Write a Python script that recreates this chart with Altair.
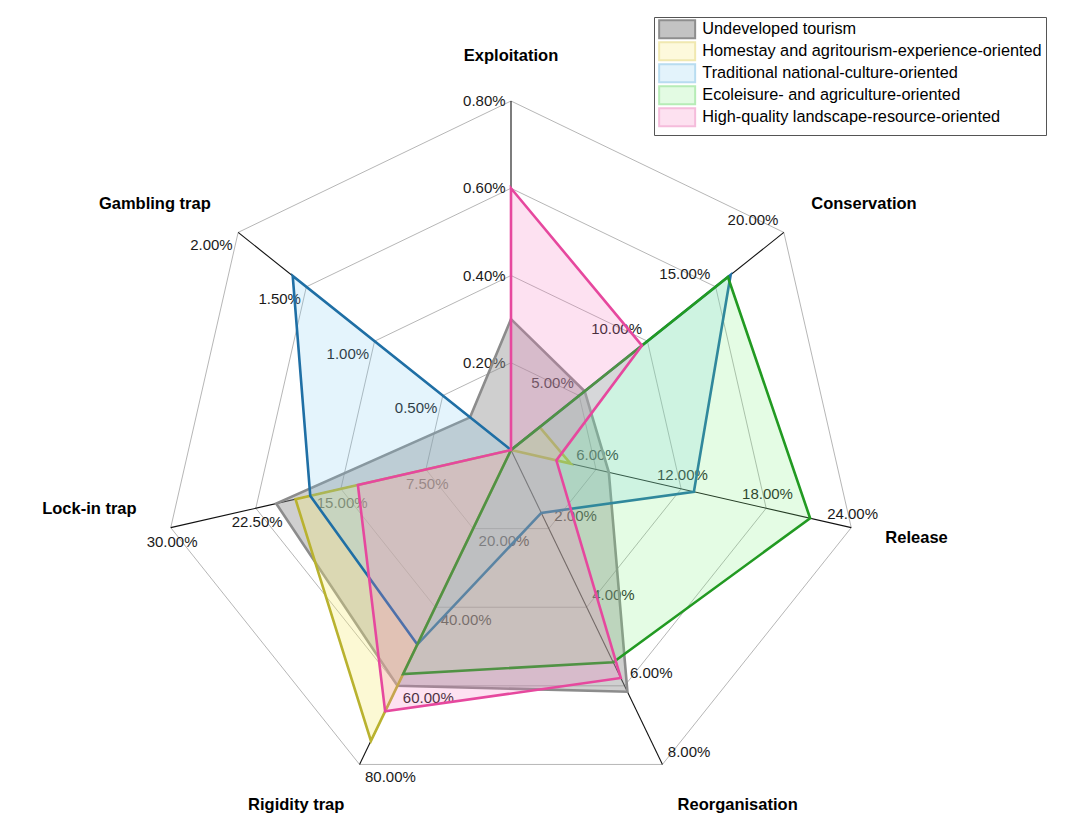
import altair as alt
import pandas as pd

# ---------------- data ----------------
axes = ["Exploitation", "Conservation", "Release", "Reorganisation",
        "Rigidity trap", "Lock-in trap", "Gambling trap"]
axis_max = [0.8, 20, 24, 8, 80, 30, 2]
axis_ticks = [
    [0.2, 0.4, 0.6, 0.8],
    [5, 10, 15, 20],
    [6, 12, 18, 24],
    [2, 4, 6, 8],
    [20, 40, 60, 80],
    [7.5, 15, 22.5, 30],
    [0.5, 1.0, 1.5, 2.0],
]

series = ["Undeveloped tourism",
          "Homestay and agritourism-experience-oriented",
          "Traditional national-culture-oriented",
          "Ecoleisure- and agriculture-oriented",
          "High-quality landscape-resource-oriented"]

undeveloped = [0.30, 5.4, 6.9, 6.15, 60.0, 20.7, 0.30]
homestay = [0.0, 2.1, 4.2, 0.0, 74.0, 19.0, 0.0]
traditional = [0.0, 16.1, 12.9, 1.6, 49.5, 17.7, 1.60]
ecoleisure = [0.0, 15.9, 21.1, 5.4, 57.0, 0.0, 0.0]
high_quality = [0.60, 9.6, 3.2, 5.8, 66.5, 13.5, 0.0]
series_values = [undeveloped, homestay, traditional, ecoleisure, high_quality]

# ---------------- style ----------------
line_colors = ["#8c8c8c", "#b9b22f", "#1f6fa5", "#229a22", "#e6489e"]
fill_colors = ["rgba(140,140,140,0.42)", "rgba(245,235,120,0.32)",
               "rgba(120,200,240,0.20)", "rgba(120,240,120,0.20)",
               "rgba(245,120,190,0.22)"]
legend_fills = ["#c3c3c3", "#fdf9dc", "#e3f3fb", "#e3fbe3", "#fde1f0"]
legend_borders = ["#8e8e8e", "#f0e8b0", "#b8dcf0", "#b6ecb6", "#f5bcdb"]
FONT = "Liberation Sans"
title_nudge_px = [0, 0, 0, 0, 0, -29, 0]   # vertical nudge of axis titles (screen px)

R_PX = 349.0
CX, CY = 503.0, 442.0
W, H = 1060, 806
xdom = [-CX / R_PX, (W - CX) / R_PX]
ydom = [-(H - CY) / R_PX, CY / R_PX]
xs = alt.Scale(domain=xdom, nice=False, zero=False)
ys = alt.Scale(domain=ydom, nice=False, zero=False)

# ---------------- tables ----------------
poly_rows = []
for s, vals in zip(series, series_values):
    for i, v in enumerate(vals):
        poly_rows.append({"series": s, "axis": axes[i], "idx": i, "value": v, "vmax": axis_max[i]})
poly_df = pd.DataFrame(poly_rows)

tick_rows = []
for i, ts in enumerate(axis_ticks):
    for t in ts:
        tick_rows.append({"idx": i, "tick": t, "vmax": axis_max[i], "label": f"{t:.2f}%"})
tick_df = pd.DataFrame(tick_rows)

ring_df = pd.DataFrame([{"level": l, "idx": i} for l in range(1, 5) for i in range(len(axes))])
axis_df = pd.DataFrame([{"idx": i, "axis": a, "nudge": title_nudge_px[i]} for i, a in enumerate(axes)])
legend_df = pd.DataFrame({"series": series, "x": [0.0] * len(series), "y": [0.0] * len(series)})

ANG = "datum.idx*2*PI/7"

rings = alt.Chart(ring_df).transform_calculate(
    a=ANG
).transform_calculate(
    x="datum.level/4*sin(datum.a)", y="datum.level/4*cos(datum.a)"
).mark_line(interpolate="linear-closed", color="#a3a3a3", strokeWidth=0.8).encode(
    x=alt.X("x:Q", scale=xs, axis=None),
    y=alt.Y("y:Q", scale=ys, axis=None),
    detail="level:N",
    order="idx:Q",
)

spokes = alt.Chart(axis_df).transform_calculate(
    a=ANG
).transform_calculate(
    x="sin(datum.a)", y="cos(datum.a)", x0="0", y0="0"
).mark_rule(color="#111111", strokeWidth=1.1).encode(
    x=alt.X("x0:Q", scale=xs, axis=None),
    y=alt.Y("y0:Q", scale=ys, axis=None),
    x2="x:Q", y2="y:Q",
)

tick_labels = alt.Chart(tick_df).transform_calculate(
    a=ANG, f="datum.tick/datum.vmax",
    w="8.3*(length(datum.label)-2)+17.5",
).transform_calculate(
    ux="-cos(datum.a)", uy="-sin(datum.a)",
).transform_calculate(
    dxs="abs(datum.ux) > 0.5 ? (datum.ux > 0 ? 1 : -1)*(datum.w/2 + 5.5) : datum.ux*6",
    dys="abs(datum.uy) < 0.3 ? 0 : (abs(datum.uy) > 0.9 ? datum.uy*14.5 : (datum.uy > 0 ? 1 : -1)*12.5)",
).transform_calculate(
    lx=f"datum.f*sin(datum.a) + datum.dxs/{R_PX}",
    ly=f"datum.f*cos(datum.a) - datum.dys/{R_PX}",
).mark_text(font=FONT, fontSize=15, color="#1a1a1a", align="center", baseline="middle").encode(
    x=alt.X("lx:Q", scale=xs, axis=None),
    y=alt.Y("ly:Q", scale=ys, axis=None),
    text="label:N",
)

polys = alt.Chart(poly_df).transform_calculate(
    a=ANG, f="datum.value/datum.vmax"
).transform_calculate(
    x="datum.f*sin(datum.a)", y="datum.f*cos(datum.a)"
).mark_line(interpolate="linear-closed", strokeWidth=2.6).encode(
    x=alt.X("x:Q", scale=xs, axis=None),
    y=alt.Y("y:Q", scale=ys, axis=None),
    order="idx:Q",
    stroke=alt.Stroke("series:N", legend=None,
                      scale=alt.Scale(domain=series, range=line_colors)),
    fill=alt.Fill("series:N", legend=None,
                  scale=alt.Scale(domain=series, range=fill_colors)),
)

# legend-only layer (single point per series draws nothing)
legend_layer = alt.Chart(legend_df).mark_line(interpolate="linear-closed", strokeWidth=2).encode(
    x=alt.X("x:Q", scale=xs, axis=None),
    y=alt.Y("y:Q", scale=ys, axis=None),
    fill=alt.Fill("series:N", title=None,
                  scale=alt.Scale(domain=series, range=legend_fills)),
    stroke=alt.Stroke("series:N", title=None,
                      scale=alt.Scale(domain=series, range=legend_borders)),
)


def titles(cond, align):
    return alt.Chart(axis_df).transform_calculate(
        a=ANG
    ).transform_filter(cond).transform_calculate(
        tx=f"sin(datum.a)*(1+35/{R_PX})",
        ty=f"cos(datum.a)*(1+45/{R_PX}) - datum.nudge/{R_PX}",
    ).mark_text(font=FONT, fontSize=16.5, fontWeight="bold", color="black",
                align=align, baseline="middle").encode(
        x=alt.X("tx:Q", scale=xs, axis=None),
        y=alt.Y("ty:Q", scale=ys, axis=None),
        text="axis:N",
    )


t_left = titles("sin(datum.a) > 0.1", "left")
t_right = titles("sin(datum.a) < -0.1", "right")
t_center = titles("abs(sin(datum.a)) <= 0.1", "center")

chart = alt.layer(
    rings, spokes, tick_labels, polys, legend_layer, t_left, t_right, t_center
).resolve_scale(
    fill="independent", stroke="independent"
).properties(
    width=W, height=H, padding=0, autosize=alt.AutoSizeParams(type="none")
).configure_view(stroke="transparent").configure_legend(
    orient="none", legendX=646, legendY=9,
    strokeColor="#555555", fillColor="white", padding=4, cornerRadius=0,
    labelFont=FONT, labelFontSize=16.3, labelColor="black", labelLimit=0,
    symbolType="M-1,-1.286H4.143V1.286H-1Z", symbolSize=196, symbolStrokeWidth=2,
    labelOffset=28, rowPadding=-7,
)

chart.save("out.html", embed_options={"renderer": "svg", "actions": False})
